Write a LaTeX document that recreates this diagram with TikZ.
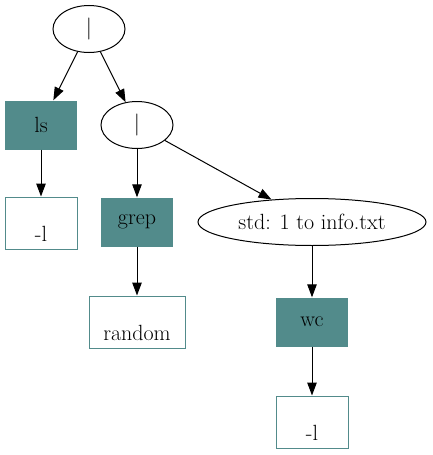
\documentclass[tikz,border=0pt]{standalone}
\usepackage{fontspec}
\usepackage{tikz}
\usetikzlibrary{positioning}
\usetikzlibrary{shapes.geometric, arrows.meta}

\definecolor{cmdteal}{HTML}{528B8B}

\begin{document}
\begin{tikzpicture}[x=1pt, y=-1pt,
  font=\fontsize{22}{21}\selectfont,
  pipe/.style={draw, ellipse, inner sep=0pt, line width=1pt},
  cmd/.style={fill=cmdteal, minimum width=72pt, minimum height=49pt, inner sep=0pt},
  arg/.style={draw=cmdteal, line width=1pt, fill=white, minimum height=52pt, inner sep=0pt, align=center},
  edge/.style={line width=1pt, -{Triangle[length=13pt, width=9.5pt]}}
]
  \useasboundingbox (0,0) rectangle (432,455);

  % pipe tree
  \node[pipe, minimum width=72pt, minimum height=47pt] (pipeA) at (89,29) {|};
  \node[cmd] (ls) at (41,125) {ls};
  \node[pipe, minimum width=72pt, minimum height=47pt] (pipeB) at (137,125) {|};
  \node[arg, minimum width=72pt] (lsarg) at (41,223) {\strut\\-l}; % args of ls
  \node[cmd] (grep) at (137,222) {grep};
  \node[pipe, minimum width=228pt, minimum height=47pt] (redir) at (312,222) {std: 1 to info.txt};
  \node[arg, minimum width=96pt] (greparg) at (137,322) {\strut\\random}; % args of grep
  \node[cmd] (wc) at (312,322) {wc};
  \node[arg, minimum width=72pt] (wcarg) at (312,422) {\strut\\-l}; % args of wc

  \draw[edge] (pipeA) -- (ls);
  \draw[edge] (pipeA) -- (pipeB);
  \draw[edge] (ls) -- (lsarg);
  \draw[edge] (pipeB) -- (grep);
  \draw[edge] (pipeB) -- (redir);
  \draw[edge] (grep) -- (greparg);
  \draw[edge] (redir) -- (wc);
  \draw[edge] (wc) -- (wcarg);

\end{tikzpicture}
\end{document}
